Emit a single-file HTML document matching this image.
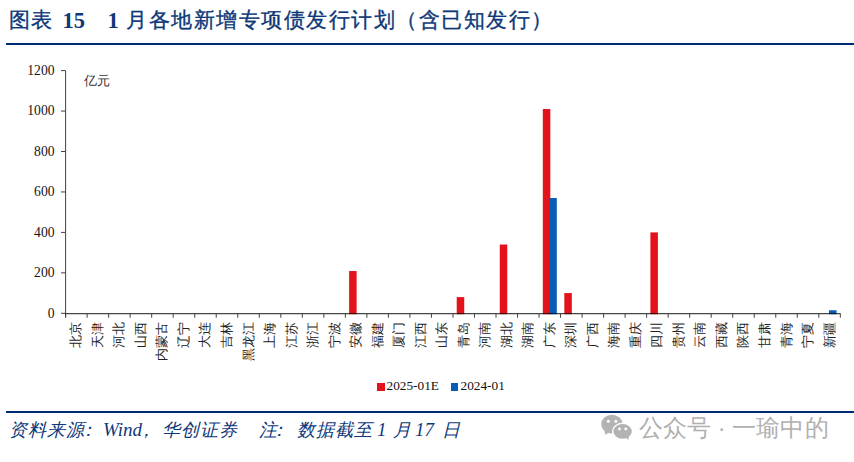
<!DOCTYPE html>
<html><head><meta charset="utf-8"><style>
html,body{margin:0;padding:0;background:#fff;width:854px;height:462px;overflow:hidden;position:relative}
body{font-family:"Liberation Serif",serif}
div{position:absolute;white-space:nowrap}
.tc{font-size:21px;letter-spacing:1.5px;line-height:30px;color:#0e3878;-webkit-text-stroke:0.35px #0e3878}
.tn{font-size:22.5px;line-height:30px;font-weight:bold;color:#0e3878}
.hr{left:6px;right:0;height:2px;background:#002a70}
.yl{right:799.5px;font-size:13.6px;line-height:16px;color:#111;text-align:right}
.xl{top:344px;width:60px;height:16px;line-height:16px;text-align:right;transform:rotate(-90deg);font-size:12.5px;color:#222}
.unit{left:84.3px;top:71.9px;font-size:13px;color:#333}
.leg{top:377.5px;font-size:13.3px;line-height:16px;color:#111}
.sq{width:7.5px;height:7.5px}
.fc{font-size:18px;letter-spacing:1px;line-height:24px;font-style:italic;color:#0e3878}
.fn{font-size:19px;line-height:24px;font-style:italic;color:#0e3878}
.wm{left:638.8px;top:412.2px;letter-spacing:0.1px;font-family:"Liberation Sans",sans-serif;font-size:23.5px;color:#b0b0b0;line-height:32px}
</style></head><body>
<div class="tc" style="left:8.5px;top:5px;">图表</div>
<div class="tn" style="left:62.5px;top:5.5px;">15</div>
<div class="tn" style="left:107.5px;top:5.5px;">1</div>
<div class="tc" style="left:126px;top:5px;">月各地新增专项债发行计划（含已知发行）</div>
<div class="hr" style="top:43px"></div>
<svg width="854" height="462" style="position:absolute;left:0;top:0">
<rect x="349.12" y="271.03" width="7.5" height="43.17" fill="#e3121b"/>
<rect x="456.72" y="297.12" width="7.5" height="17.08" fill="#e3121b"/>
<rect x="499.76" y="244.54" width="7.5" height="69.66" fill="#e3121b"/>
<rect x="542.80" y="109.03" width="7.5" height="205.17" fill="#e3121b"/>
<rect x="564.32" y="293.07" width="7.5" height="21.12" fill="#e3121b"/>
<rect x="650.40" y="232.40" width="7.5" height="81.80" fill="#e3121b"/>
<rect x="549.20" y="198.02" width="7.6" height="116.18" fill="#055db6"/>
<rect x="828.96" y="310.27" width="7.6" height="3.93" fill="#055db6"/>
<line x1="65.6" y1="70.6" x2="65.6" y2="317.3" stroke="#404040" stroke-width="1"/>
<line x1="65.6" y1="313.6" x2="840.32" y2="313.6" stroke="rgba(0,0,0,0.72)" stroke-width="1.3"/>
<line x1="60.99999999999999" y1="313.30" x2="65.6" y2="313.30" stroke="#404040" stroke-width="1"/>
<line x1="60.99999999999999" y1="272.85" x2="65.6" y2="272.85" stroke="#404040" stroke-width="1"/>
<line x1="60.99999999999999" y1="232.40" x2="65.6" y2="232.40" stroke="#404040" stroke-width="1"/>
<line x1="60.99999999999999" y1="191.95" x2="65.6" y2="191.95" stroke="#404040" stroke-width="1"/>
<line x1="60.99999999999999" y1="151.50" x2="65.6" y2="151.50" stroke="#404040" stroke-width="1"/>
<line x1="60.99999999999999" y1="111.05" x2="65.6" y2="111.05" stroke="#404040" stroke-width="1"/>
<line x1="60.99999999999999" y1="70.60" x2="65.6" y2="70.60" stroke="#404040" stroke-width="1"/>
<line x1="65.60" y1="313.3" x2="65.60" y2="317.7" stroke="#404040" stroke-width="1"/>
<line x1="87.12" y1="313.3" x2="87.12" y2="317.7" stroke="#404040" stroke-width="1"/>
<line x1="108.64" y1="313.3" x2="108.64" y2="317.7" stroke="#404040" stroke-width="1"/>
<line x1="130.16" y1="313.3" x2="130.16" y2="317.7" stroke="#404040" stroke-width="1"/>
<line x1="151.68" y1="313.3" x2="151.68" y2="317.7" stroke="#404040" stroke-width="1"/>
<line x1="173.20" y1="313.3" x2="173.20" y2="317.7" stroke="#404040" stroke-width="1"/>
<line x1="194.72" y1="313.3" x2="194.72" y2="317.7" stroke="#404040" stroke-width="1"/>
<line x1="216.24" y1="313.3" x2="216.24" y2="317.7" stroke="#404040" stroke-width="1"/>
<line x1="237.76" y1="313.3" x2="237.76" y2="317.7" stroke="#404040" stroke-width="1"/>
<line x1="259.28" y1="313.3" x2="259.28" y2="317.7" stroke="#404040" stroke-width="1"/>
<line x1="280.80" y1="313.3" x2="280.80" y2="317.7" stroke="#404040" stroke-width="1"/>
<line x1="302.32" y1="313.3" x2="302.32" y2="317.7" stroke="#404040" stroke-width="1"/>
<line x1="323.84" y1="313.3" x2="323.84" y2="317.7" stroke="#404040" stroke-width="1"/>
<line x1="345.36" y1="313.3" x2="345.36" y2="317.7" stroke="#404040" stroke-width="1"/>
<line x1="366.88" y1="313.3" x2="366.88" y2="317.7" stroke="#404040" stroke-width="1"/>
<line x1="388.40" y1="313.3" x2="388.40" y2="317.7" stroke="#404040" stroke-width="1"/>
<line x1="409.92" y1="313.3" x2="409.92" y2="317.7" stroke="#404040" stroke-width="1"/>
<line x1="431.44" y1="313.3" x2="431.44" y2="317.7" stroke="#404040" stroke-width="1"/>
<line x1="452.96" y1="313.3" x2="452.96" y2="317.7" stroke="#404040" stroke-width="1"/>
<line x1="474.48" y1="313.3" x2="474.48" y2="317.7" stroke="#404040" stroke-width="1"/>
<line x1="496.00" y1="313.3" x2="496.00" y2="317.7" stroke="#404040" stroke-width="1"/>
<line x1="517.52" y1="313.3" x2="517.52" y2="317.7" stroke="#404040" stroke-width="1"/>
<line x1="539.04" y1="313.3" x2="539.04" y2="317.7" stroke="#404040" stroke-width="1"/>
<line x1="560.56" y1="313.3" x2="560.56" y2="317.7" stroke="#404040" stroke-width="1"/>
<line x1="582.08" y1="313.3" x2="582.08" y2="317.7" stroke="#404040" stroke-width="1"/>
<line x1="603.60" y1="313.3" x2="603.60" y2="317.7" stroke="#404040" stroke-width="1"/>
<line x1="625.12" y1="313.3" x2="625.12" y2="317.7" stroke="#404040" stroke-width="1"/>
<line x1="646.64" y1="313.3" x2="646.64" y2="317.7" stroke="#404040" stroke-width="1"/>
<line x1="668.16" y1="313.3" x2="668.16" y2="317.7" stroke="#404040" stroke-width="1"/>
<line x1="689.68" y1="313.3" x2="689.68" y2="317.7" stroke="#404040" stroke-width="1"/>
<line x1="711.20" y1="313.3" x2="711.20" y2="317.7" stroke="#404040" stroke-width="1"/>
<line x1="732.72" y1="313.3" x2="732.72" y2="317.7" stroke="#404040" stroke-width="1"/>
<line x1="754.24" y1="313.3" x2="754.24" y2="317.7" stroke="#404040" stroke-width="1"/>
<line x1="775.76" y1="313.3" x2="775.76" y2="317.7" stroke="#404040" stroke-width="1"/>
<line x1="797.28" y1="313.3" x2="797.28" y2="317.7" stroke="#404040" stroke-width="1"/>
<line x1="818.80" y1="313.3" x2="818.80" y2="317.7" stroke="#404040" stroke-width="1"/>
<line x1="840.32" y1="313.3" x2="840.32" y2="317.7" stroke="#404040" stroke-width="1"/>
<ellipse cx="611.9" cy="424.1" rx="10.7" ry="9.4" fill="#b3b3b3"/>
<path d="M604.5 430 L605.2 434.8 L610 432 Z" fill="#b3b3b3"/>
<circle cx="608.4" cy="421.3" r="1.5" fill="#fff"/><circle cx="615.9" cy="421.3" r="1.5" fill="#fff"/>
<ellipse cx="622.6" cy="431.4" rx="9.9" ry="8.1" fill="#b3b3b3" stroke="#fff" stroke-width="1.4"/>
<path d="M625.5 437 L628.3 440 L629 435.5 Z" fill="#b3b3b3"/>
<circle cx="619.5" cy="429" r="1.4" fill="#fff"/><circle cx="625.8" cy="429" r="1.4" fill="#fff"/>
</svg>
<div class="yl" style="top:305.70px">0</div>
<div class="yl" style="top:265.25px">200</div>
<div class="yl" style="top:224.80px">400</div>
<div class="yl" style="top:184.35px">600</div>
<div class="yl" style="top:143.90px">800</div>
<div class="yl" style="top:103.45px">1000</div>
<div class="yl" style="top:63.00px">1200</div>
<div class="xl" style="left:46.36px">北京</div>
<div class="xl" style="left:67.88px">天津</div>
<div class="xl" style="left:89.40px">河北</div>
<div class="xl" style="left:110.92px">山西</div>
<div class="xl" style="left:132.44px">内蒙古</div>
<div class="xl" style="left:153.96px">辽宁</div>
<div class="xl" style="left:175.48px">大连</div>
<div class="xl" style="left:197.00px">吉林</div>
<div class="xl" style="left:218.52px">黑龙江</div>
<div class="xl" style="left:240.04px">上海</div>
<div class="xl" style="left:261.56px">江苏</div>
<div class="xl" style="left:283.08px">浙江</div>
<div class="xl" style="left:304.60px">宁波</div>
<div class="xl" style="left:326.12px">安徽</div>
<div class="xl" style="left:347.64px">福建</div>
<div class="xl" style="left:369.16px">厦门</div>
<div class="xl" style="left:390.68px">江西</div>
<div class="xl" style="left:412.20px">山东</div>
<div class="xl" style="left:433.72px">青岛</div>
<div class="xl" style="left:455.24px">河南</div>
<div class="xl" style="left:476.76px">湖北</div>
<div class="xl" style="left:498.28px">湖南</div>
<div class="xl" style="left:519.80px">广东</div>
<div class="xl" style="left:541.32px">深圳</div>
<div class="xl" style="left:562.84px">广西</div>
<div class="xl" style="left:584.36px">海南</div>
<div class="xl" style="left:605.88px">重庆</div>
<div class="xl" style="left:627.40px">四川</div>
<div class="xl" style="left:648.92px">贵州</div>
<div class="xl" style="left:670.44px">云南</div>
<div class="xl" style="left:691.96px">西藏</div>
<div class="xl" style="left:713.48px">陕西</div>
<div class="xl" style="left:735.00px">甘肃</div>
<div class="xl" style="left:756.52px">青海</div>
<div class="xl" style="left:778.04px">宁夏</div>
<div class="xl" style="left:799.56px">新疆</div>
<div class="unit">亿元</div>
<div class="sq" style="left:377px;top:383.3px;background:#e3121b"></div>
<div class="leg" style="left:386.5px">2025-01E</div>
<div class="sq" style="left:450.7px;top:383.3px;background:#055db6"></div>
<div class="leg" style="left:460.5px">2024-01</div>
<div class="hr" style="top:411px"></div>
<div class="fc" style="left:9px;top:418px;">资料来源</div>
<div class="fc" style="left:79px;top:418px;">：</div>
<div class="fn" style="left:103px;top:418px;">Wind</div>
<div class="fc" style="left:136.5px;top:418px;">，</div>
<div class="fc" style="left:162.3px;top:418px;">华创证券</div>
<div class="fc" style="left:259.4px;top:418px;">注</div>
<div class="fc" style="left:270px;top:418px;">：</div>
<div class="fc" style="left:296.5px;top:418px;">数据截至</div>
<div class="fn" style="left:377px;top:418px;">1</div>
<div class="fc" style="left:393px;top:418px;">月</div>
<div class="fn" style="left:415px;top:418px;">17</div>
<div class="fc" style="left:442px;top:418px;">日</div>
<div class="wm">公众号 · 一瑜中的</div>
</body></html>
